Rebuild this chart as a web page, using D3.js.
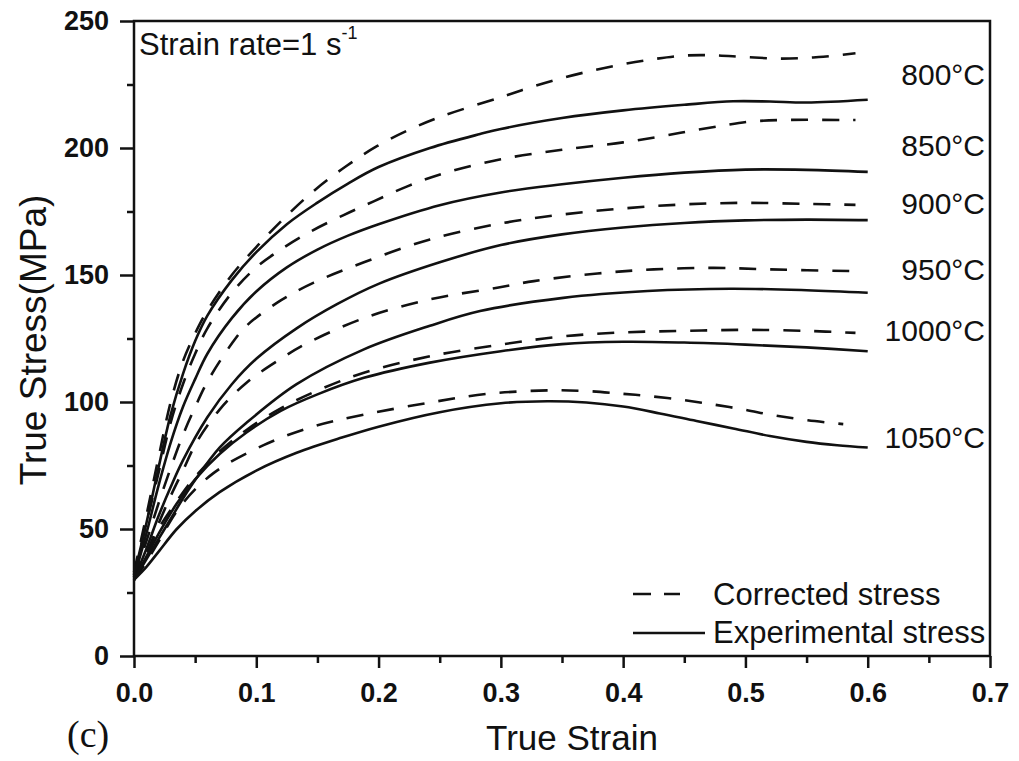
<!DOCTYPE html>
<html>
<head>
<meta charset="utf-8">
<script src="https://cdn.jsdelivr.net/npm/d3@7"></script>
<style>
  html, body { margin: 0; padding: 0; background: #fff; }
  svg { display: block; }
  text { font-family: "Liberation Sans", Arial, sans-serif; fill: #111; }
</style>
</head>
<body>
<svg id="chart" width="1019" height="761"></svg>
<script>
// ---- Data ----
const xTicks = [0, 0.1, 0.2, 0.3, 0.4, 0.5, 0.6, 0.7];
const xMinorTicks = [0.05, 0.15, 0.25, 0.35, 0.45, 0.55, 0.65];
const yTicks = [0, 50, 100, 150, 200, 250];
const yMinorTicks = [25, 75, 125, 175, 225];
const temperatures = ["800°C", "850°C", "900°C", "950°C", "1000°C", "1050°C"];

// Corrected stress (dashed) [strain, stress]
const corr800 = [[0,33],[0.01,55],[0.02,78],[0.03,100],[0.04,116],[0.05,127],[0.06,136],[0.08,150],[0.1,161],[0.122,172],[0.148,183.5],[0.174,193],[0.199,200.8],[0.226,207.4],[0.253,212.7],[0.3,220],[0.325,224],[0.35,227.5],[0.375,230.5],[0.4,233],[0.425,235],[0.45,236.4],[0.475,236.5],[0.5,235.8],[0.53,235.2],[0.56,235.8],[0.59,237.3]];
const corr850 = [[0,32],[0.01,52],[0.02,72],[0.03,92],[0.04,107],[0.05,119],[0.06,129],[0.08,143],[0.1,153],[0.12,160],[0.144,167],[0.171,173.5],[0.196,179],[0.224,185],[0.253,190],[0.3,195.6],[0.35,199.3],[0.4,202.2],[0.43,204.5],[0.455,206.7],[0.48,208.7],[0.502,210.3],[0.529,211],[0.59,211]];
const corr900 = [[0,31],[0.01,45],[0.02,60],[0.03,74],[0.04,87],[0.05,98],[0.06,108],[0.08,123],[0.092,130],[0.12,140],[0.147,147],[0.188,155],[0.242,164],[0.3,170.3],[0.35,173.8],[0.4,176.2],[0.45,177.8],[0.5,178.4],[0.55,178],[0.59,177.6]];
const corr950 = [[0,30],[0.01,40],[0.02,52],[0.03,63],[0.04,73],[0.051,84],[0.07,97],[0.092,107.6],[0.12,117],[0.141,123],[0.188,133],[0.242,140.4],[0.297,145],[0.327,147.6],[0.379,150.6],[0.425,152.2],[0.474,152.8],[0.52,152.2],[0.59,151.5]];
const corr1000 = [[0,30],[0.01,40],[0.02,50],[0.038,63],[0.05,70.5],[0.07,80.5],[0.092,89],[0.12,97.5],[0.15,104.5],[0.188,111.5],[0.242,118],[0.3,122.6],[0.35,125.8],[0.4,127.4],[0.45,128],[0.5,128.4],[0.55,128],[0.59,127.2]];
const corr1050 = [[0,30],[0.01,37],[0.02,45],[0.038,59],[0.065,72],[0.106,83],[0.147,90.4],[0.188,95],[0.242,99.8],[0.289,103.2],[0.34,104.6],[0.37,104.3],[0.398,103.3],[0.422,102.3],[0.45,100.7],[0.474,99],[0.499,97],[0.523,94.8],[0.551,92.8],[0.58,91.3]];

// Experimental stress (solid) [strain, stress]
const exp800 = [[0,32],[0.01,52],[0.02,74],[0.03,95],[0.04,111],[0.05,124],[0.06,134],[0.08,148],[0.1,159],[0.125,170],[0.15,178.5],[0.175,186],[0.2,192.5],[0.242,200],[0.283,205.5],[0.3,207.5],[0.35,211.8],[0.4,214.8],[0.45,217],[0.49,218.4],[0.52,218.3],[0.55,217.9],[0.6,219]];
const exp850 = [[0,31],[0.01,48],[0.02,67],[0.03,84],[0.04,98],[0.05,109],[0.06,119],[0.08,133],[0.1,143.5],[0.125,153],[0.15,160],[0.175,165.5],[0.2,170],[0.25,177.5],[0.3,182.5],[0.35,185.7],[0.4,188.3],[0.45,190.3],[0.5,191.5],[0.55,191.4],[0.6,190.6]];
const exp900 = [[0,30],[0.01,42],[0.02,55],[0.03,66.5],[0.04,77],[0.06,94],[0.08,107],[0.1,117],[0.133,129],[0.166,138.5],[0.2,146.5],[0.25,155],[0.3,161.8],[0.35,166],[0.4,168.7],[0.45,170.5],[0.5,171.5],[0.55,171.8],[0.6,171.6]];
const exp950 = [[0,30],[0.01,38],[0.02,46],[0.03,54],[0.04,62],[0.051,70],[0.07,82],[0.092,91.8],[0.133,107],[0.188,120.7],[0.242,130],[0.283,135.8],[0.351,141],[0.42,143.7],[0.488,144.6],[0.55,144],[0.6,143]];
const exp1000 = [[0,30],[0.01,39],[0.02,48],[0.035,60],[0.05,69.5],[0.07,79.5],[0.092,88],[0.12,96.5],[0.15,103],[0.188,109.5],[0.242,115.5],[0.3,120],[0.35,122.8],[0.4,123.7],[0.45,123.4],[0.5,122.6],[0.55,121.5],[0.6,120]];
const exp1050 = [[0,30],[0.01,35],[0.02,41],[0.035,50],[0.05,57],[0.07,64.5],[0.1,73],[0.133,80],[0.17,86],[0.2,90.3],[0.25,96],[0.3,99.5],[0.338,100.3],[0.37,99.8],[0.4,98.2],[0.43,95.5],[0.46,92.5],[0.49,89.6],[0.52,86.6],[0.55,84.3],[0.575,83],[0.6,82.1]];

const correctedSeries = [corr800, corr850, corr900, corr950, corr1000, corr1050];
const experimentalSeries = [exp800, exp850, exp900, exp950, exp1000, exp1050];
const labelStress = [225, 197, 174, 148, 124, 82];

// ---- Layout ----
const svg = d3.select("#chart");
const X0 = 134, X1 = 990, Y0 = 656, Y1 = 21;
const x = d3.scaleLinear().domain([0, 0.7]).range([X0, X1]);
const y = d3.scaleLinear().domain([0, 250]).range([Y0, Y1]);

const line = d3.line().x(d => x(d[0])).y(d => y(d[1])).curve(d3.curveCatmullRom.alpha(0.5));

// curves
svg.append("g").selectAll("path").data(correctedSeries).join("path")
  .attr("d", line).attr("fill", "none").attr("stroke", "#111")
  .attr("stroke-width", 2.6).attr("stroke-dasharray", "17,14");
svg.append("g").selectAll("path").data(experimentalSeries).join("path")
  .attr("d", line).attr("fill", "none").attr("stroke", "#111")
  .attr("stroke-width", 2.6);

// frame
svg.append("rect").attr("x", X0).attr("y", Y1).attr("width", X1 - X0).attr("height", Y0 - Y1)
  .attr("fill", "none").attr("stroke", "#111").attr("stroke-width", 2.5);

// axes
const fmtX = d3.format(".1f");
const gx = svg.append("g").attr("transform", `translate(0,${Y0})`)
  .call(d3.axisBottom(x).tickValues(xTicks).tickFormat(fmtX).tickSize(12).tickPadding(15));
const gxm = svg.append("g").attr("transform", `translate(0,${Y0})`)
  .call(d3.axisBottom(x).tickValues(xMinorTicks).tickFormat("").tickSize(7));
const gy = svg.append("g").attr("transform", `translate(${X0},0)`)
  .call(d3.axisLeft(y).tickValues(yTicks).tickSize(14).tickPadding(11));
const gym = svg.append("g").attr("transform", `translate(${X0},0)`)
  .call(d3.axisLeft(y).tickValues(yMinorTicks).tickFormat("").tickSize(7));
[gx, gxm, gy, gym].forEach(g => {
  g.select(".domain").remove();
  g.selectAll(".tick line").attr("stroke", "#111").attr("stroke-width", 2.5);
  g.selectAll(".tick text").attr("font-family", "'Liberation Sans', Arial, sans-serif")
    .attr("font-size", 27).attr("font-weight", "bold").attr("fill", "#111");
});

// axis titles
svg.append("text").attr("x", 572).attr("y", 750).attr("text-anchor", "middle")
  .attr("font-size", 35).text("True Strain");
svg.append("text").attr("transform", "translate(46,340) rotate(-90)").attr("text-anchor", "middle")
  .attr("font-size", 37).text("True Stress(MPa)");
svg.append("text").attr("x", 67).attr("y", 747).attr("font-size", 38)
  .style("font-family", "'Liberation Serif', 'Times New Roman', serif").text("(c)");

// strain rate annotation
const sr = svg.append("text").attr("x", 139).attr("y", 55).attr("font-size", 31);
sr.append("tspan").text("Strain rate=1 s");
sr.append("tspan").attr("dy", -16).attr("font-size", 18).text("-1");

// temperature labels
svg.append("g").selectAll("text").data(temperatures).join("text")
  .attr("x", 985).attr("y", (d, i) => y(labelStress[i]))
  .attr("text-anchor", "end").attr("font-size", 30).text(d => d);

// legend
svg.append("line").attr("x1", 633).attr("x2", 680).attr("y1", 594).attr("y2", 594)
  .attr("stroke", "#111").attr("stroke-width", 2.6).attr("stroke-dasharray", "18,13");
svg.append("text").attr("x", 713).attr("y", 605).attr("font-size", 31).text("Corrected stress");
svg.append("line").attr("x1", 633).attr("x2", 705).attr("y1", 633).attr("y2", 633)
  .attr("stroke", "#111").attr("stroke-width", 2.6);
svg.append("text").attr("x", 713).attr("y", 643).attr("font-size", 31).text("Experimental stress");
</script>
</body>
</html>
